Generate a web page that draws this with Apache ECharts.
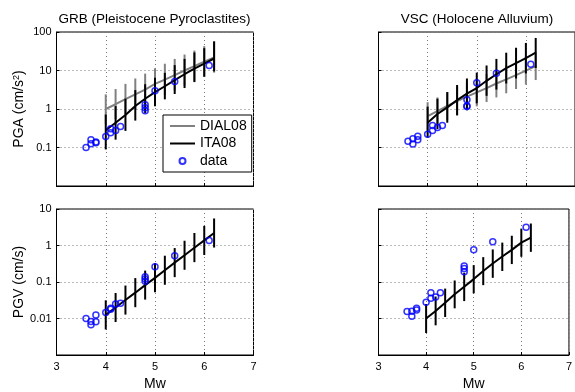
<!DOCTYPE html>
<html><head><meta charset="utf-8">
<script src="https://cdn.jsdelivr.net/npm/echarts@6/dist/echarts.min.js"></script>
<style>html,body{margin:0;padding:0;background:#fff;}#c{width:575px;height:392px;}</style>
</head><body><div id="c"></div>
<script>
// ---- data ----
const panelTitles = ['GRB (Pleistocene Pyroclastites)', 'VSC (Holocene Alluvium)'];
const xTicks = [3, 4, 5, 6, 7];
const pgaTicks = [0.1, 1, 10, 100];
const pgvTicks = [0.01, 0.1, 1, 10];

const mwData  = [3.6, 3.7, 3.7, 3.8, 3.8, 4.0, 4.1, 4.1, 4.2, 4.3, 4.8, 4.8, 4.8, 5.0, 5.4, 6.1];
const mwModel = [4.0, 4.2, 4.4, 4.6, 4.8, 5.0, 5.2, 5.4, 5.6, 5.8, 6.0, 6.2];

// GRB PGA
const grbPgaData = [0.10, 0.16, 0.125, 0.133, 0.138, 0.194, 0.305, 0.24, 0.275, 0.35, 1.28, 1.07, 0.90, 2.96, 5.2, 13.5];
const grbPgaIta    = [0.28, 0.44, 0.70, 1.2, 1.85, 2.75, 3.9, 5.6, 8.0, 11.2, 15, 20.5];
const grbPgaItaHi  = [0.72, 1.19, 1.86, 3.1, 4.4, 6.5, 8.7, 13.8, 20, 29.5, 38, 57];
const grbPgaItaLo  = [0.089, 0.16, 0.27, 0.5, 0.79, 1.17, 1.78, 2.45, 3.5, 5.0, 6.9, 9.5];
const grbPgaDial   = [1.0, 1.33, 1.8, 2.4, 3.2, 4.5, 5.8, 7.6, 10, 13, 17, 22];
const grbPgaDialHi = [2.4, 3.3, 4.5, 6.2, 8.3, 11.5, 15, 20, 26, 33, 43, 57];
const grbPgaDialLo = [0.41, 0.55, 0.74, 0.98, 1.3, 1.8, 2.3, 3.0, 4.0, 5.2, 6.8, 8.8];

// VSC PGA
const vscPgaData = [0.146, 0.124, 0.168, 0.16, 0.197, 0.22, 0.275, 0.37, 0.33, 0.37, 1.74, 1.2, 1.16, 4.8, 8.5, 14.5];
const vscPgaIta    = [0.44, 0.74, 1.1, 1.7, 2.5, 3.5, 5.4, 8.0, 11.5, 15.5, 21, 29];
const vscPgaItaHi  = [1.15, 1.85, 2.75, 4.2, 6.2, 8.8, 13.5, 20, 29, 39, 52, 70];
const vscPgaItaLo  = [0.18, 0.3, 0.44, 0.68, 1.0, 1.4, 2.2, 3.2, 4.6, 6.2, 8.4, 11.6];
const vscPgaDial   = [0.65, 0.88, 1.2, 1.6, 2.1, 2.7, 3.5, 4.6, 5.9, 7.6, 9.9, 13];
const vscPgaDialHi = [1.5, 2.0, 2.75, 3.7, 4.8, 6.2, 8.0, 10.6, 13.6, 17.5, 23, 30];
const vscPgaDialLo = [0.28, 0.38, 0.52, 0.7, 0.91, 1.17, 1.52, 2.0, 2.56, 3.3, 4.3, 5.65];

// GRB PGV
const grbPgvData = [0.010, 0.0083, 0.0067, 0.0125, 0.0082, 0.0145, 0.019, 0.018, 0.025, 0.026, 0.14, 0.12, 0.105, 0.26, 0.52, 1.37];
const grbPgvIta   = [0.0126, 0.020, 0.032, 0.051, 0.082, 0.13, 0.21, 0.34, 0.54, 0.87, 1.38, 2.2];
const grbPgvItaHi = [0.0315, 0.05, 0.08, 0.128, 0.205, 0.325, 0.525, 0.85, 1.35, 2.2, 3.45, 5.5];
const grbPgvItaLo = [0.005, 0.008, 0.0128, 0.0204, 0.033, 0.052, 0.084, 0.136, 0.216, 0.35, 0.55, 0.88];

// VSC PGV
const vscPgvData = [0.0155, 0.0115, 0.0159, 0.017, 0.019, 0.028, 0.036, 0.051, 0.039, 0.051, 0.275, 0.235, 0.19, 0.77, 1.27, 3.16];
const vscPgvIta   = [0.010, 0.016, 0.027, 0.046, 0.074, 0.12, 0.20, 0.32, 0.50, 0.76, 1.2, 1.65];
const vscPgvItaHi = [0.025, 0.04, 0.066, 0.11, 0.18, 0.29, 0.48, 0.78, 1.2, 1.85, 2.9, 4.0];
const vscPgvItaLo = [0.004, 0.0065, 0.011, 0.019, 0.03, 0.049, 0.082, 0.13, 0.2, 0.31, 0.49, 0.67];

// ---- layout / style ----
const FONT = 'Liberation Sans, Arial, Helvetica, sans-serif';
const GRAY = '#808080', BLUE = '#0000ff';
const grids = [
  {left: 56.5, top: 32, width: 197, height: 154},
  {left: 378.5, top: 32, width: 197.5, height: 154},
  {left: 56.5, top: 209, width: 197, height: 154},
  {left: 378.5, top: 209, width: 197.5, height: 154}
];

function zip(xs, ys) { return xs.map((x, i) => [x, ys[i]]); }
function zip3(xs, a, b) { return xs.map((x, i) => [x, a[i], b[i]]); }

function errSeries(idx, name, lo, hi, color, z) {
  return {
    type: 'custom', name: name, xAxisIndex: idx, yAxisIndex: idx, z: z,
    silent: true, encode: {x: 0, y: [1, 2]},
    data: zip3(mwModel, lo, hi),
    renderItem: function (params, api) {
      const x = api.value(0);
      const p1 = api.coord([x, api.value(1)]);
      const p2 = api.coord([x, api.value(2)]);
      return {type: 'line', shape: {x1: p1[0], y1: p1[1], x2: p2[0], y2: p2[1]},
              style: {stroke: color, lineWidth: 2}};
    }
  };
}
function lineSeries(idx, name, vals, color, z) {
  return {type: 'line', name: name, xAxisIndex: idx, yAxisIndex: idx, z: z,
          data: zip(mwModel, vals), symbol: 'none', showSymbol: false,
          lineStyle: {color: color, width: 2}, itemStyle: {color: 'rgba(0,0,0,0)', borderWidth: 0}};
}
function dataSeries(idx, vals) {
  return {type: 'scatter', name: 'data', xAxisIndex: idx, yAxisIndex: idx, z: 8,
          data: zip(mwData, vals), symbol: 'circle', symbolSize: 6,
          itemStyle: {color: 'rgba(0,0,0,0)', borderColor: BLUE, borderWidth: 1.5}};
}

const panels = [
  {dial: [grbPgaDial, grbPgaDialLo, grbPgaDialHi], ita: [grbPgaIta, grbPgaItaLo, grbPgaItaHi], data: grbPgaData, ymin: 0.01, ymax: 100, yname: 'PGA (cm/s{sup|2})', xlab: false, ylab: true},
  {dial: [vscPgaDial, vscPgaDialLo, vscPgaDialHi], ita: [vscPgaIta, vscPgaItaLo, vscPgaItaHi], data: vscPgaData, ymin: 0.01, ymax: 100, yname: '', xlab: false, ylab: false},
  {dial: null, ita: [grbPgvIta, grbPgvItaLo, grbPgvItaHi], data: grbPgvData, ymin: 0.001, ymax: 10, yname: 'PGV (cm/s)', xlab: true, ylab: true},
  {dial: null, ita: [vscPgvIta, vscPgvItaLo, vscPgvItaHi], data: vscPgvData, ymin: 0.001, ymax: 10, yname: '', xlab: true, ylab: false}
];

const xAxes = [], yAxes = [], series = [];
panels.forEach((p, i) => {
  xAxes.push({
    type: 'value', gridIndex: i, min: xTicks[0], max: xTicks[xTicks.length - 1], interval: 1,
    name: p.xlab ? 'Mw' : '', nameLocation: 'middle', nameGap: 22,
    nameTextStyle: {fontSize: 14, color: '#000', fontFamily: FONT},
    axisLine: {show: true, lineStyle: {color: '#000', width: 1}},
    axisTick: {show: true, inside: true, length: 3, lineStyle: {color: '#000'}},
    axisLabel: {show: p.xlab, fontSize: 11, color: '#000', fontFamily: FONT, margin: 6},
    splitLine: {show: true, lineStyle: {color: '#777', type: [1, 3], width: 1}}
  });
  yAxes.push({
    type: 'log', logBase: 10, gridIndex: i, min: p.ymin, max: p.ymax,
    name: p.yname, nameLocation: 'middle', nameGap: 28,
    nameTextStyle: {fontSize: 14, color: '#000', fontFamily: FONT,
      rich: {sup: {fontSize: 9, verticalAlign: 'top', lineHeight: 10, padding: [0, 0, 8, 0], color: '#000', fontFamily: FONT}}},
    axisLine: {show: true, lineStyle: {color: '#000', width: 1}},
    axisTick: {show: true, inside: true, length: 3, lineStyle: {color: '#000'}},
    axisLabel: {show: p.ylab, showMinLabel: false, fontSize: 11, color: '#000', fontFamily: FONT, margin: 5},
    splitLine: {show: true, lineStyle: {color: '#777', type: [1, 3], width: 1}}
  });
  if (p.dial) {
    series.push(lineSeries(i, 'DIAL08', p.dial[0], GRAY, 2));
    series.push(errSeries(i, 'DIAL08 σ', p.dial[1], p.dial[2], GRAY, 3));
  }
  series.push(lineSeries(i, 'ITA08', p.ita[0], '#000', 4));
  series.push(errSeries(i, 'ITA08 σ', p.ita[1], p.ita[2], '#000', 5));
  series.push(dataSeries(i, p.data));
});

const chart = echarts.init(document.getElementById('c'), null, {renderer: 'canvas'});
chart.setOption({
  animation: false,
  backgroundColor: '#fff',
  textStyle: {fontFamily: FONT},
  title: [
    {text: panelTitles[0], left: 154.5, top: 12, textAlign: 'center', padding: 0,
     textStyle: {fontSize: 13.5, fontWeight: 'normal', color: '#000', fontFamily: FONT}},
    {text: panelTitles[1], left: 477, top: 12, textAlign: 'center', padding: 0,
     textStyle: {fontSize: 13.5, fontWeight: 'normal', color: '#000', fontFamily: FONT}}
  ],
  grid: grids.map(g => Object.assign({show: true, borderColor: '#000', borderWidth: 1, backgroundColor: 'transparent', containLabel: false}, g)),
  xAxis: xAxes,
  yAxis: yAxes,
  legend: {
    left: 163, top: 115, orient: 'vertical', padding: [4, 5, 4, 6], itemGap: 3.5,
    itemWidth: 25, itemHeight: 6, backgroundColor: '#fff', borderColor: '#000', borderWidth: 1,
    selectedMode: false, z: 20,
    textStyle: {fontSize: 14, color: '#000', fontFamily: FONT},
    data: [
      {name: 'DIAL08', itemStyle: {opacity: 0}},
      {name: 'ITA08', itemStyle: {opacity: 0}},
      {name: 'data'}
    ]
  },
  series: series
});
</script></body></html>
